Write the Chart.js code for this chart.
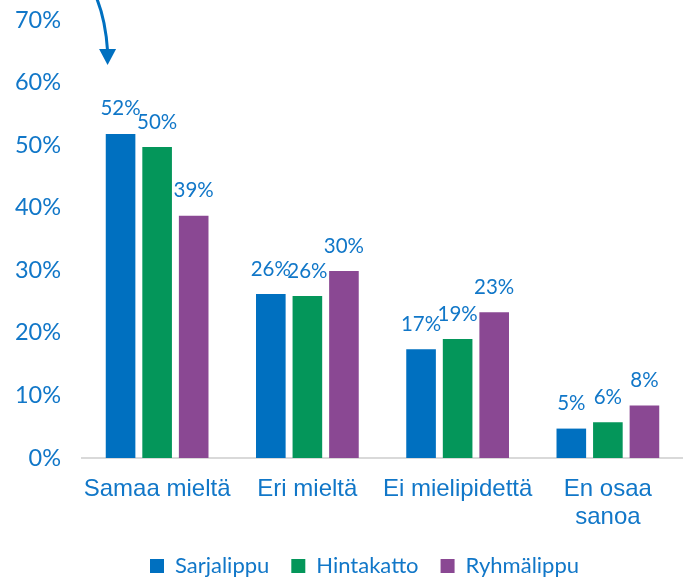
<!DOCTYPE html>
<html>
<head>
<meta charset="utf-8">
<script src="https://cdn.jsdelivr.net/npm/chart.js@4"></script>
<style>
  html, body { margin: 0; padding: 0; background: #fff; }
  #wrap { width: 683px; height: 580px; }
</style>
</head>
<body>
<div id="wrap"><canvas id="c" width="683" height="580"></canvas></div>
<script>
// data
const categories = ['Samaa mieltä', 'Eri mieltä', 'Ei mielipidettä', ['En osaa', 'sanoa']];
const sarjalippu = [51.8, 26.2, 17.4, 4.7];
const hintakatto = [49.7, 25.9, 19.0, 5.7];
const ryhmalippu = [38.7, 29.9, 23.3, 8.4];
const yTicks = [0, 10, 20, 30, 40, 50, 60, 70];

const textBlue = '#1177C8';

// value labels above the bars
const valueLabels = {
  id: 'valueLabels',
  afterDatasetsDraw(chart) {
    const ctx = chart.ctx;
    ctx.save();
    ctx.fillStyle = textBlue;
    ctx.font = '20.5px Lato';
    ctx.textAlign = 'center';
    ctx.textBaseline = 'middle';
    chart.data.datasets.forEach((ds, i) => {
      chart.getDatasetMeta(i).data.forEach((bar, j) => {
        ctx.fillText(Math.round(ds.data[j]) + '%', bar.x, bar.y - 25);
      });
    });
    ctx.restore();
  }
};

// curved arrow pointing at the first group
const arrow = {
  id: 'arrow',
  afterDraw(chart) {
    const bar = chart.getDatasetMeta(0).data[0];
    const ctx = chart.ctx;
    const tx = bar.x - 13, ty = bar.y - 69;
    ctx.save();
    ctx.strokeStyle = '#0070C0';
    ctx.fillStyle = '#0070C0';
    ctx.lineWidth = 3;
    ctx.beginPath();
    ctx.moveTo(tx - 11, -2);
    ctx.quadraticCurveTo(tx - 2, 20, tx, ty - 14);
    ctx.stroke();
    ctx.beginPath();
    ctx.moveTo(tx - 8.5, ty - 16);
    ctx.lineTo(tx + 8.5, ty - 16);
    ctx.lineTo(tx, ty);
    ctx.closePath();
    ctx.fill();
    ctx.restore();
  }
};

// legend sits a little right of centre in the original
const legendShift = {
  id: 'legendShift',
  afterLayout(chart) {
    chart.legend.left += 20;
    chart.legend.right += 20;
  }
};

new Chart(document.getElementById('c'), {
  type: 'bar',
  data: {
    labels: categories,
    datasets: [
      { label: 'Sarjalippu', data: sarjalippu, backgroundColor: '#0070C0' },
      { label: 'Hintakatto', data: hintakatto, backgroundColor: '#04965A' },
      { label: 'Ryhmälippu', data: ryhmalippu, backgroundColor: '#8A4893' }
    ]
  },
  options: {
    responsive: false,
    animation: false,
    layout: { padding: { top: 20, right: -6, left: 0, bottom: -7 } },
    datasets: { bar: { categoryPercentage: 0.73, barPercentage: 0.81 } },
    plugins: {
      tooltip: { enabled: false },
      legend: {
        position: 'bottom',
        labels: {
          color: textBlue,
          font: { family: 'Lato', size: 22 },
          boxWidth: 14,
          boxHeight: 14,
          padding: 22
        }
      }
    },
    scales: {
      x: {
        grid: { display: false, drawTicks: false },
        border: { color: '#d9d9d9', width: 2 },
        ticks: {
          color: textBlue,
          font: { family: 'Liberation Sans', size: 24, lineHeight: 1.15 },
          padding: 18,
          maxRotation: 0,
          autoSkip: false
        },
        afterFit: s => { s.height = 75; }
      },
      y: {
        min: 0,
        max: 70,
        grid: { display: false, drawTicks: false },
        border: { display: false },
        afterBuildTicks: s => { s.ticks = yTicks.map(v => ({ value: v })); },
        ticks: {
          color: textBlue,
          font: { family: 'Lato', size: 23.5 },
          padding: 21,
          callback: v => v + '%'
        },
        afterFit: s => { s.width = 82; s.paddingTop = 0; s.paddingBottom = 0; }
      }
    }
  },
  plugins: [valueLabels, arrow, legendShift]
});
</script>
</body>
</html>
